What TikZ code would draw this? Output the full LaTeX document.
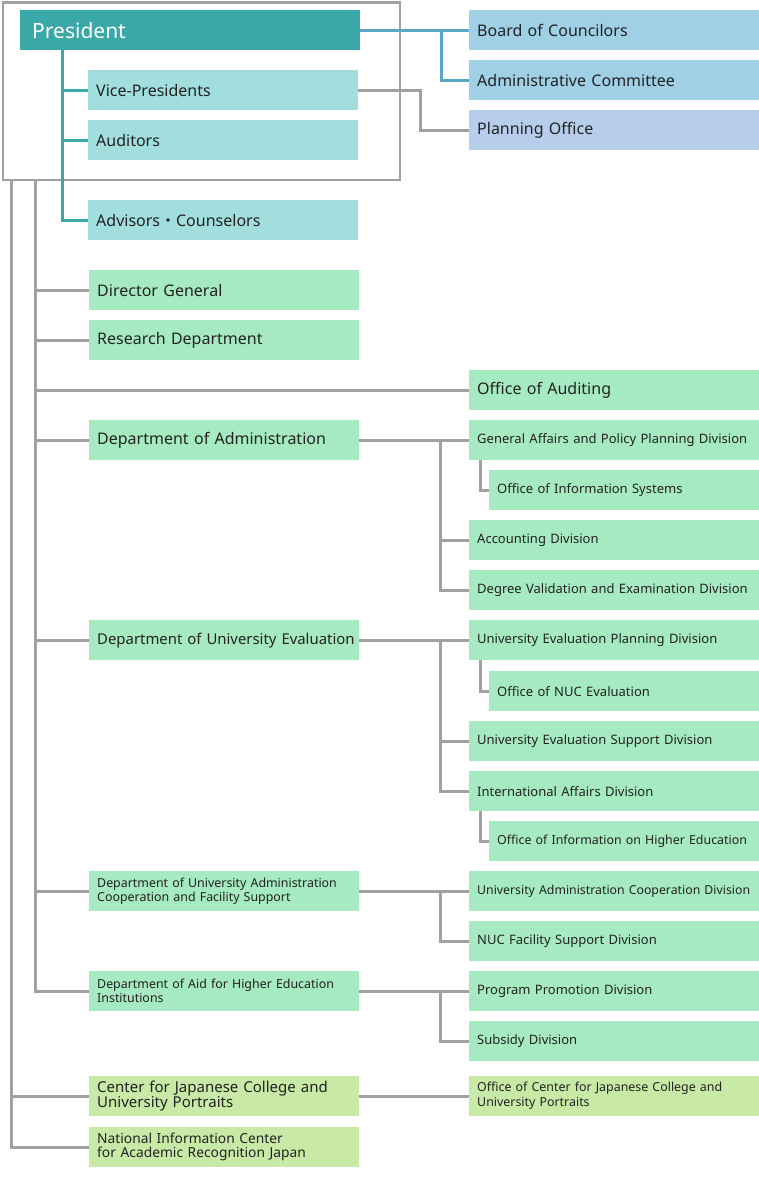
\documentclass[tikz,border=0pt]{standalone}
\usepackage{fontspec}
\setmainfont{Noto Sans}
\newfontfamily\cjk{Noto Sans CJK JP}
\usetikzlibrary{calc}
\definecolor{presC}{HTML}{3AA8A8}
\definecolor{tealL}{HTML}{A2DEDE}
\definecolor{blueL}{HTML}{A0D0E6}
\definecolor{planC}{HTML}{B6CEEC}
\definecolor{greenC}{HTML}{A6EAC1}
\definecolor{limeC}{HTML}{C8EAA6}
\definecolor{lineG}{HTML}{A0A0A0}
\definecolor{lineT}{HTML}{3AA8A8}
\definecolor{lineB}{HTML}{5AA6C4}
\definecolor{txt}{HTML}{222222}
\tikzset{
  box/.style={anchor=north west, minimum height=40pt, inner xsep=8pt, inner ysep=0pt, align=left, text=txt,
    execute at begin node={\hyphenpenalty=10000\exhyphenpenalty=10000\hbadness=10000\hfuzz=100pt}},
  lbox/.style={box, text width=254pt},
  rbox/.style={box, text width=274pt},
  sbox/.style={box, text width=254pt},
  big/.style={font=\fontsize{16}{18}\selectfont},
  mid/.style={font=\fontsize{13}{15}\selectfont},
  two/.style={font=\fontsize{12.4}{14}\selectfont},
  gline/.style={draw=lineG, line width=3pt},
  tline/.style={draw=lineT, line width=3pt},
  bline/.style={draw=lineB, line width=3pt},
}
\begin{document}
\begin{tikzpicture}[x=1pt,y=-1pt]
\useasboundingbox (0,0) rectangle (759,1180);
% group box
\node[draw=lineG, line width=2.5pt, anchor=north west, minimum width=397pt, minimum height=177pt, inner sep=0pt] (grp) at (1.5,1.5) {};
% top
\node[box, fill=presC, text=white, inner xsep=12pt, text width=316pt, font=\fontsize{21}{23}\selectfont] (pres) at (20,10) {President};
\node[lbox, big, fill=tealL] (vp) at (88,70) {Vice-Presidents};
\node[lbox, big, fill=tealL] (aud) at (88,120) {Auditors};
\node[lbox, big, fill=tealL] (adv) at (88,200) {Advisors{\cjk ・}Counselors};
\node[rbox, big, fill=blueL] (board) at (469,10) {Board of Councilors};
\node[rbox, big, fill=blueL] (admc) at (469,60) {Administrative Committee};
\node[rbox, big, fill=planC] (plan) at (469,110) {Planning Office};
% left column
\node[lbox, big, fill=greenC] (dg) at (89,270) {Director General};
\node[lbox, big, fill=greenC] (rd) at (89,320) {Research Department};
\node[rbox, big, fill=greenC] (oaud) at (469,370) {Office of Auditing};
\node[lbox, big, fill=greenC] (dadm) at (89,420) {Department of Administration};
\node[lbox, fill=greenC, font=\fontsize{14.9}{18}\selectfont] (due) at (89,620) {\mbox{Department of University Evaluation}};
\node[lbox, two, fill=greenC] (dua) at (89,871) {Department of University Administration\\Cooperation and Facility Support};
\node[lbox, two, fill=greenC] (daid) at (89,971) {Department of Aid for Higher Education\\Institutions};
\node[lbox, fill=limeC, font=\fontsize{15}{15}\selectfont] (cjc) at (89,1076) {Center for Japanese College and\\University Portraits};
\node[lbox, fill=limeC, font=\fontsize{13.8}{14}\selectfont] (nic) at (89,1127) {National Information Center\\for Academic Recognition Japan};
% right column
\node[rbox, mid, fill=greenC] (gapd) at (469,420) {\mbox{General Affairs and Policy Planning Division}};
\node[sbox, mid, fill=greenC] (ois) at (489,470) {Office of Information Systems};
\node[rbox, mid, fill=greenC] (acc) at (469,520) {Accounting Division};
\node[rbox, mid, fill=greenC] (dve) at (469,570) {\mbox{Degree Validation and Examination Division}};
\node[rbox, mid, fill=greenC] (uepd) at (469,620) {University Evaluation Planning Division};
\node[sbox, mid, fill=greenC] (onuc) at (489,671) {Office of NUC Evaluation};
\node[rbox, mid, fill=greenC] (uesd) at (469,721) {University Evaluation Support Division};
\node[rbox, mid, fill=greenC] (iad) at (469,771) {International Affairs Division};
\node[sbox, fill=greenC, font=\fontsize{12.4}{15}\selectfont] (oihe) at (489,821) {\mbox{Office of Information on Higher Education}};
\node[rbox, fill=greenC, font=\fontsize{12.3}{15}\selectfont] (uacd) at (469,871) {\mbox{University Administration Cooperation Division}};
\node[rbox, mid, fill=greenC] (nucf) at (469,921) {NUC Facility Support Division};
\node[rbox, mid, fill=greenC] (ppd) at (469,971) {Program Promotion Division};
\node[rbox, mid, fill=greenC] (sub) at (469,1021) {Subsidy Division};
\node[rbox, fill=limeC, font=\fontsize{12.4}{15}\selectfont] (ocjc) at (469,1076) {Office of Center for Japanese College and\\University Portraits};
% coordinates
\coordinate (pt) at (62,50);
\coordinate (pb) at (441,30);
\coordinate (t1) at (11,179);
\coordinate (t2) at (35,179);
\coordinate (bx) at (440,0);
\coordinate (sx) at (480,0);
\coordinate (vx) at (420,0);
% teal connectors
\draw[tline] (pt) |- (adv.west);
\draw[tline] (vp.west -| pt) -- (vp.west);
\draw[tline] (aud.west -| pt) -- (aud.west);
\draw[bline] (pres.east) -- (board.west);
\draw[bline] (pb) |- (admc.west);
\draw[gline] (vp.east) -- (vp.east -| vx) |- (plan.west);
% trunks
\draw[gline] (t1) |- (nic.west);
\draw[gline] (cjc.west -| t1) -- (cjc.west);
\draw[gline] (t2) |- (daid.west);
\draw[gline] (dg.west -| t2) -- (dg.west);
\draw[gline] (rd.west -| t2) -- (rd.west);
\draw[gline] (oaud.west -| t2) -- (oaud.west);
\draw[gline] (dadm.west -| t2) -- (dadm.west);
\draw[gline] (due.west -| t2) -- (due.west);
\draw[gline] (dua.west -| t2) -- (dua.west);
% department branches
\draw[gline] (dadm.east) -- (gapd.west);
\draw[gline] (dadm.east -| bx) |- (dve.west);
\draw[gline] (acc.west -| bx) -- (acc.west);
\draw[gline] (gapd.south -| sx) |- (ois.west);
\draw[gline] (due.east) -- (uepd.west);
\draw[gline] (due.east -| bx) |- (iad.west);
\draw[gline] (uesd.west -| bx) -- (uesd.west);
\draw[gline] (uepd.south -| sx) |- (onuc.west);
\draw[gline] (iad.south -| sx) |- (oihe.west);
\draw[gline] (dua.east) -- (uacd.west);
\draw[gline] (dua.east -| bx) |- (nucf.west);
\draw[gline] (daid.east) -- (ppd.west);
\draw[gline] (daid.east -| bx) |- (sub.west);
\draw[gline] (cjc.east) -- (ocjc.west);
\end{tikzpicture}
\end{document}
